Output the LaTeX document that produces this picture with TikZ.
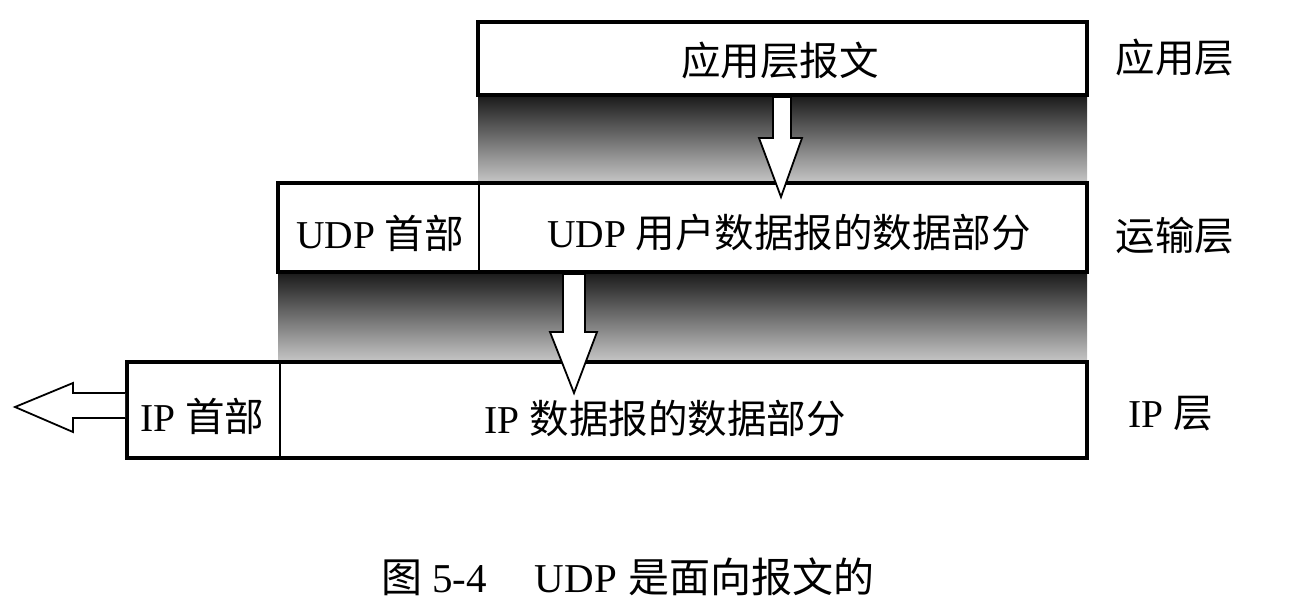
\documentclass[tikz,border=0pt]{standalone}
\usepackage{fontspec}
\setmainfont{Liberation Serif}
\newfontfamily\cjk{Noto Sans CJK SC}
\newcommand\zh[1]{{\cjk #1}}
\usetikzlibrary{calc}
\tikzset{
  pkt/.style={draw, line width=4pt, inner sep=0pt, fill=white},
  divider/.style={line width=1.8pt},
  lbl/.style={font=\fontsize{39.5}{44}\selectfont, inner sep=0pt},
  captxt/.style={font=\fontsize{41}{46}\selectfont, inner sep=0pt},
  bandfill/.style={top color=black!90, bottom color=black!22, draw=none},
  hollow/.style={draw, fill=white, line width=1.8pt, line join=miter}
}
\begin{document}
\begin{tikzpicture}[x=1pt,y=-1pt]
\useasboundingbox (0,0) rectangle (1292,613);
% shaded bands
\fill[bandfill] (478,95) rectangle (1087,183);
\fill[bandfill] (278,272) rectangle (1087,362);
% boxes
\node[pkt, minimum width=609pt, minimum height=73pt] (app) at (782.5,58.5) {};
\node[pkt, minimum width=809pt, minimum height=89pt] (udp) at (682.5,227.5) {};
\node[pkt, minimum width=960pt, minimum height=96pt] (ip) at (607,410) {};
\coordinate (udpdivT) at (479,183);
\coordinate (udpdivB) at (479,272);
\coordinate (ipdivT) at (280,362);
\coordinate (ipdivB) at (280,458);
\draw[divider] (udpdivT) -- (udpdivB);
\draw[divider] (ipdivT) -- (ipdivB);
% texts in boxes
\node[lbl] (appmsg) at (780,61) {\zh{应用层报文}};
\node[lbl] (udphdr) at (380,233) {UDP \zh{首部}};
\node[lbl] (udpdata) at (789,233) {UDP \zh{用户数据报的数据部分}};
\node[lbl] (iphdr) at (202,416) {IP \zh{首部}};
\node[lbl] (ipdata) at (665,418) {IP \zh{数据报的数据部分}};
% layer labels
\node[lbl] (lapp) at (1175,58) {\zh{应用层}};
\node[lbl] (ltrans) at (1175,236) {\zh{运输层}};
\node[lbl] (lip) at (1171,414) {IP \zh{层}};
% hollow arrows
\draw[hollow] (773,97) -- (791,97) -- (791,138) -- (802,138) -- (781,197) -- (759,138) -- (773,138) -- cycle;
\draw[hollow] (563,274) -- (585,274) -- (585,332) -- (597,332) -- (574,393) -- (550,332) -- (563,332) -- cycle;
\draw[hollow] (ip.west |- 0,393) -- (73,393) -- (73,383) -- (15,407) -- (73,432) -- (73,418) -- (ip.west |- 0,418);
% caption
\node[captxt, anchor=west] (caption) at (381,577) {\zh{图}\hspace{10pt}5-4\hspace{48pt}UDP\hspace{12pt}\zh{是面向报文的}};
\end{tikzpicture}
\end{document}
